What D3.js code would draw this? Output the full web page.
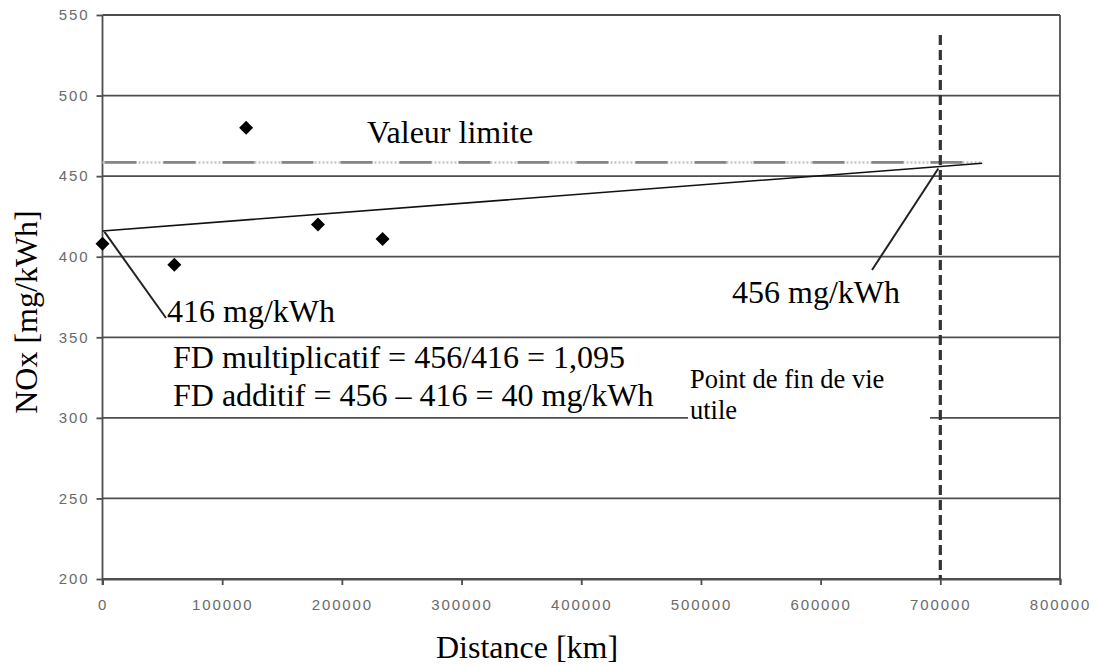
<!DOCTYPE html>
<html><head><meta charset="utf-8">
<script src="https://cdn.jsdelivr.net/npm/d3@7"></script>
<style>
html,body{margin:0;padding:0;background:#fff;}
svg{display:block;}
.serif{font-family:"Liberation Serif","Times New Roman",serif;fill:#000;}
.tick text{font-family:"Liberation Sans",Arial,sans-serif;fill:#6a6a6a;}
</style>
</head><body>
<svg id="chart" width="1094" height="666"></svg>
<script>
// ---- data ----
const distance = [0, 60000, 120000, 180000, 234000];
const nox = [408, 395, 480, 420, 411];
const xTicks = [0, 100000, 200000, 300000, 400000, 500000, 600000, 700000, 800000];
const yTicks = [200, 250, 300, 350, 400, 450, 500, 550];
const trendDist = [0, 700000, 735000];
const trendNox = [416, 456, 458];
const limitDist = [0, 735000];
const limitNox = [458.5, 458.5];
const endOfLife = 700000;
const labels = {
  xTitle: "Distance [km]",
  yTitle: "NOx [mg/kWh]",
  limit: "Valeur limite",
  start: "416 mg/kWh",
  end: "456 mg/kWh",
  fd1: "FD multiplicatif = 456/416 = 1,095",
  fd2: "FD additif = 456 \u2013 416 = 40 mg/kWh",
  eol1: "Point de fin de vie",
  eol2: "utile"
};

const svg = d3.select("#chart");
const x = d3.scaleLinear().domain([0, 800000]).range([102.5, 1060]);
const y = d3.scaleLinear().domain([200, 550]).range([579, 15]);

// gridlines
svg.append("g").selectAll("line").data(yTicks).join("line")
  .attr("x1", x(0)).attr("x2", x(800000))
  .attr("y1", d => y(d)).attr("y2", d => y(d))
  .attr("stroke", "#4e4e4e").attr("stroke-width", 1.8);
// right border
svg.append("line").attr("x1", x(800000)).attr("x2", x(800000))
  .attr("y1", y(550)).attr("y2", y(200)).attr("stroke", "#4e4e4e").attr("stroke-width", 1.8);

// white box behind end-of-life text
svg.append("rect").attr("x", 688).attr("y", 366).attr("width", 242).attr("height", 62).attr("fill", "#fff");

// axes
const yAxis = svg.append("g").attr("transform", `translate(${x(0)},0)`)
  .call(d3.axisLeft(y).tickValues(yTicks).tickSize(6).tickPadding(8).tickFormat(d3.format("d")));
const xAxis = svg.append("g").attr("transform", `translate(0,${y(200)})`)
  .call(d3.axisBottom(x).tickValues(xTicks).tickSize(6).tickPadding(14).tickFormat(d3.format("d")));
[yAxis, xAxis].forEach(g => {
  g.select(".domain").attr("stroke", "#4e4e4e").attr("stroke-width", 1.8);
  g.selectAll(".tick line").attr("stroke", "#4e4e4e").attr("stroke-width", 1.8);
  g.selectAll(".tick text").attr("font-size", 15).attr("letter-spacing", "1.9px").attr("fill", "#6a6a6a");
});
yAxis.selectAll(".tick text").attr("dx", 1);
yAxis.select(".domain").attr("d", `M0,${y(550)}V${y(200) + 6}`);

// limit line (dash + dotted)
const line = d3.line().x(d => x(d[0])).y(d => y(d[1]));
const limitPts = limitDist.map((d, i) => [d, limitNox[i]]);
svg.append("path").attr("d", line(limitPts)).attr("fill", "none")
  .attr("stroke", "#c4c4c4").attr("stroke-width", 2.5).attr("stroke-dasharray", "2,2");
svg.append("path").attr("d", line(limitPts)).attr("fill", "none")
  .attr("stroke", "#858585").attr("stroke-width", 2.8).attr("stroke-dasharray", "32,27")
  .attr("stroke-dashoffset", -2);

// vertical dashed end-of-life line
svg.append("line").attr("x1", x(endOfLife)).attr("x2", x(endOfLife))
  .attr("y1", 35).attr("y2", y(200))
  .attr("stroke", "#333").attr("stroke-width", 3.2).attr("stroke-dasharray", "10,5");

// trend line
const trendPts = trendDist.map((d, i) => [d, trendNox[i]]);
svg.append("path").attr("d", line(trendPts)).attr("fill", "none")
  .attr("stroke", "#111").attr("stroke-width", 1.6);

// leader lines
svg.append("line").attr("x1", x(0) + 2).attr("y1", y(trendNox[0]) + 1)
  .attr("x2", 166).attr("y2", 318).attr("stroke", "#222").attr("stroke-width", 2);
svg.append("line").attr("x1", x(endOfLife) - 2).attr("y1", y(trendNox[1]) + 2)
  .attr("x2", 872).attr("y2", 270).attr("stroke", "#222").attr("stroke-width", 2);

// points
svg.append("g").selectAll("path").data(distance.map((d, i) => [d, nox[i]])).join("path")
  .attr("transform", d => `translate(${x(d[0])},${y(d[1])})`)
  .attr("d", "M0,-7L7,0L0,7L-7,0Z").attr("fill", "#000");

// texts
const T = (txt, tx, ty, fs, anchor) => svg.append("text").attr("class", "serif")
  .attr("x", tx).attr("y", ty).attr("font-size", fs).attr("text-anchor", anchor || "start").text(txt);
T(labels.limit, 367, 143, 32);
T(labels.start, 167, 322, 32);
T(labels.end, 732, 303, 32);
T(labels.fd1, 173, 368, 32);
T(labels.fd2, 173, 406, 32);
T(labels.eol1, 690, 388, 26.5);
T(labels.eol2, 690, 419, 26.5);
T(labels.xTitle, 527, 658, 32, "middle");
svg.append("text").attr("class", "serif").attr("font-size", 32).attr("text-anchor", "middle")
  .attr("transform", `translate(37,312) rotate(-90)`).text(labels.yTitle);
</script>
</body></html>
